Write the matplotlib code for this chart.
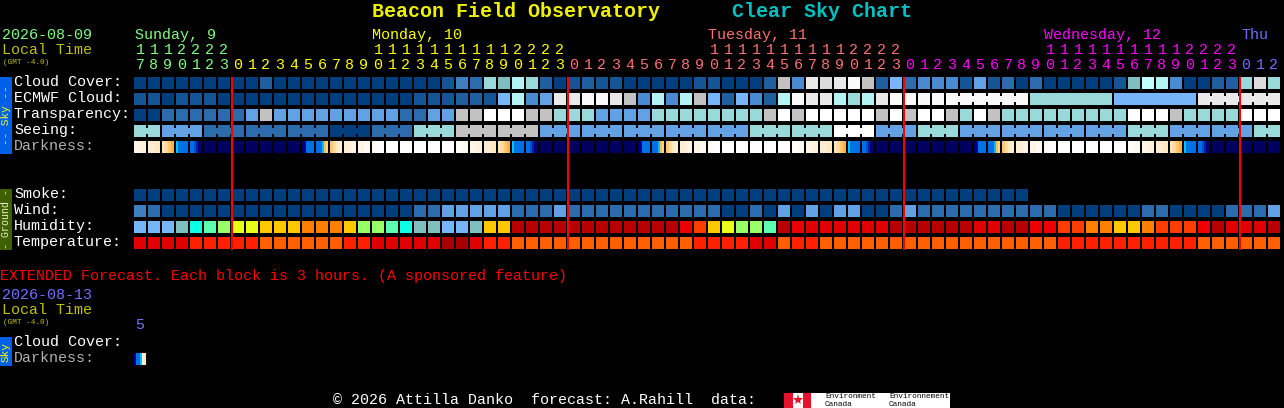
import matplotlib
matplotlib.use("Agg")
import matplotlib.pyplot as plt
from matplotlib.patches import Rectangle

W, H = 1284, 408
FONT = ["Liberation Mono", "DejaVu Sans Mono"]

# colour keys used by the rows
COL = {
    "a": "#003e7e", "b": "#155595", "c": "#1f5f9f", "d": "#2c6cac", "e": "#3f7fbf",
    "f": "#4a8ad0", "g": "#62a2e4", "h": "#75b5f8", "T": "#7fbfbf", "U": "#99d9d9",
    "V": "#b3f3f3", "X": "#c0ffff", "G": "#c2c2c2", "D": "#dcdcdc", "E": "#e9e9e9",
    "W": "#fafafa", "O": "#ffffff",
    "r": "#b80000", "s": "#e00000", "t": "#ee0000", "u": "#ff3c00", "v": "#ff8000",
    "w": "#ffc800", "x": "#e8ff19", "y": "#99ff66", "z": "#5affb0", "q": "#0dffe5",
    "R": "#a80000", "S": "#ff2000", "P": "#ff5f00",
}

cloud_cover = ("aaaaaaaaa" "c" "aaaaaaaaaaaa" "bedUTVUca" "bcbb" "aaaaa" "bb" "aaa" "c"
               "GfEDEW" "Gchdfffbgbdad" "aaaaa" "b" "TXVf" "aa" "cc" "UDU")
ecmwf = ("bbabbb" "aaaaaaaaaaaaaa" "bbbccbhVfgEEWWEGfVfVGhchfc" "VWEEVUVE"
         "WWWWWWWWWW" "UUUUUU" "hhhhhh" "EEEEEE")
transparency = ("aa" "dddddd" "gG" "ggggggggg" "dd" "gg" "GG" "OOO" "GG" "UUU" "gggg" "UUUUUUUU"
                "GOG" "OOOOO" "GOGOOGUOG" "UUUUUUUUU" "OOOG" "UUUU" "OOO")
seeing = ("UU" "ggg" "ddd" "ddd" "ddd" "aaa" "ddd" "UUU" "GGG" "GGG" "ggg" "ggg" "ggg" "ggg" "ggg"
          "UUU" "UUU" "OOO" "ggg" "UUU" "ggg" "ggg" "ggg" "ggg" "UUU" "ggg" "ggg" "UU")
smoke = "a" * 64
wind = ("ed" "aaaaaaaaaaaaaaaaaa" "dd" "ggggg" "ddd" "g" "ddddddddddd" "aadagagagg"
        "aadg" "dddddddddd" "aaaaaa" "dd" "aaaa" "ddd" "g")
humidity = ("hhhTqzyxxwwwvvvwyyzqT" "T" "hh" "T" "ww" "rrrrrrrrrrrr" "tuwxyyz" "rt" "ssss" "ss"
            "rrrrrr" "ss" "rr" "tt" "uu" "vv" "ww" "v" "uuu" "t" "r" "sss" "r")
temperature = ("ssss" "SSSSS" "PPPPPP" "SS" "sssss" "RR" "s" "SS" "PPPPPPPPPPPPP" "SSSS" "ss" "P" "SS"
               "PPPPPPPPPPPPPPPPP" "SSSSSSSSSS" "PPPPPP")

# darkness: each hour block is a run of strips, left to right
dark_blocks = {
    "w": ["#ffffff"],
    "l": ["#fffdf8", "#fffaf0"],
    "m": ["#fff6e8", "#fff1dc"],
    "n": ["#ffeed4", "#ffe8c4"],
    "o": ["#ffe4b8", "#ffd898", "#ffc870", "#ffb040"],
    "b": ["#00c0ff", "#0070e8", "#0070e8", "#0070e8", "#0070e8", "#0070e8"],
    "c": ["#0070e8", "#0070e8", "#0050c8", "#0020a0", "#000080", "#000068"],
    "k": ["#000060"],
    "e": ["#000060", "#000090", "#0070e8", "#0070e8", "#0070e8", "#0070e8"],
    "f": ["#0070e8", "#0070e8", "#0070e8", "#00c0ff", "#ffc040", "#ffd080"],
    "g": ["#ffc878", "#ffdca0", "#ffe8c4", "#ffeed4"],
    "h": ["#ffeed4", "#fff4e4"],
    "i": ["#fff6e8", "#fffaf0"],
    "j": ["#fffcf6", "#ffffff"],
}
darkness = ("mno" "bc" "kkkkkkk" "ef" "ghij" "wwwww" "l"
            "mno" "bc" "kkkkkkk" "ef" "ghij" "wwwww" "l"
            "mno" "bc" "kkkkkkk" "ef" "ghij" "wwwww" "l"
            "mno" "bc" "kkkkk")

for row in (cloud_cover, ecmwf, transparency, seeing, wind, humidity, temperature, darkness):
    assert len(row) == 82, len(row)

start_hour = 17
n_cells = 82
day_names = ["Sunday, 9", "Monday, 10", "Tuesday, 11", "Wednesday, 12", "Thu"]
day_label_x = [135, 372, 708, 1044, 1241]
day_colors = ["#80ff80", "#ffff00", "#ff7070", "#ff00ff", "#7070ff"]
midnights = [7, 31, 55, 79]

sky_rows = [("Cloud Cover:", cloud_cover), ("ECMWF Cloud:", ecmwf),
            ("Transparency:", transparency), ("Seeing:", seeing)]
ground_rows = [("Smoke:", smoke), ("Wind:", wind), ("Humidity:", humidity), ("Temperature:", temperature)]

# three hour runs joined by a bridge: (first, last, notched)
seeing_groups = [(0, 1, True)] + [(i, i + 2, True) for i in range(2, 80, 3)] + [(80, 81, True)]
ecmwf_groups = [(58, 63, True), (64, 69, False), (70, 75, False), (76, 81, True)]

fig = plt.figure(figsize=(W / 100, H / 100), dpi=100, facecolor="black")
ax = fig.add_axes([0, 0, 1, 1])
ax.set_xlim(0, W)
ax.set_ylim(H, 0)
ax.axis("off")

CELL_X0, PITCH, CELL_W, CELL_H = 134, 14, 12, 12


def cell_x(i):
    return CELL_X0 + PITCH * i


def box(x, y, w, h, color):
    # snapping off so the 12 px blocks stay 12 px
    ax.add_patch(Rectangle((x, y), w, h, fc=color, ec="none", lw=0, snap=False))


def txt(x, y, s, color="#ffffff", size=10.8, **kw):
    kw.setdefault("va", "center")
    kw.setdefault("ha", "left")
    ax.text(x, y, s, color=color, fontsize=size, family=FONT, **kw)


def draw_row(values, y, groups=()):
    for i, k in enumerate(values):
        box(cell_x(i), y, CELL_W, CELL_H, COL[k])
    for first, last, notched in groups:
        inset = 3 if notched else 0
        for i in range(first, last):
            box(cell_x(i) + CELL_W, y + inset, PITCH - CELL_W, CELL_H - 2 * inset, COL[values[i]])


def draw_dark(keys, y):
    for i, k in enumerate(keys):
        strips = dark_blocks[k]
        sw = CELL_W / len(strips)
        for j, c in enumerate(strips):
            box(cell_x(i) + j * sw, y, sw, CELL_H, c)


# titles
txt(372, 11.5, "Beacon Field Observatory", "#efef00", 14.4, fontweight="bold")
txt(732, 11.5, "Clear Sky Chart", "#00c0c0", 14.4, fontweight="bold")

# header left side
txt(2, 35, "2026-08-09", "#80ff80")
txt(2, 50.5, "Local Time", "#c0c000")
txt(3, 62, "(GMT -4.0)", "#c0c000", 5.6)
for name, x, c in zip(day_names, day_label_x, day_colors):
    txt(x, 35, name, c)

# hour digits
for i in range(n_cells):
    hour = (start_hour + i) % 24
    day = sum(i >= m for m in midnights)
    c = day_colors[day]
    if hour >= 10:
        txt(cell_x(i) + 6, 50.5, str(hour // 10), c, ha="center")
    txt(cell_x(i) + 6, 65, str(hour % 10), c, ha="center")

# sky rows
row_y = 77
for label, values in sky_rows:
    txt(14, row_y + 5, label)
    groups = seeing_groups if label == "Seeing:" else ecmwf_groups if label == "ECMWF Cloud:" else ()
    draw_row(values, row_y, groups)
    row_y += 16
txt(14, row_y + 5, "Darkness:", "#b0b0b0")
draw_dark(darkness, row_y)

# ground rows
row_y = 189
for label, values in ground_rows:
    txt(14, row_y + 5, label)
    draw_row(values, row_y)
    row_y += 16

# side tabs
box(0, 77, 12, 77, "#0060e8")
txt(6, 115, "-- Sky --", "#ffff00", 8, rotation=90, ha="center")
box(0, 189, 12, 61, "#3e6000")
txt(6, 219, "- Ground -", "#f0f0d0", 7.2, rotation=90, ha="center")

# midnight lines
for m in midnights:
    box(cell_x(m) - 1, 77, 2, 173, "#ff0000")

# extended forecast
txt(0, 276, "EXTENDED Forecast. Each block is 3 hours. (A sponsored feature)", "#ff0000")
txt(2, 295, "2026-08-13", "#7070ff")
txt(2, 310.5, "Local Time", "#c0c000")
txt(3, 322, "(GMT -4.0)", "#c0c000", 5.6)
txt(140, 325, "5", "#7070ff", ha="center")
txt(14, 341.5, "Cloud Cover:")
txt(14, 357.5, "Darkness:", "#b0b0b0")
box(0, 337, 12, 29, "#0060e8")
txt(6, 352, "Sky", "#ffff00", 8, rotation=90, ha="center")
extended_strips = ["#000090", "#0070e8", "#0070e8", "#00c0ff", "#ffeed4", "#ffe8c4"]
for j, c in enumerate(extended_strips):
    box(134 + j * 2, 353, 2, 12, c)

# footer
txt(333, 400, "\u00a9 2026 Attilla Danko  forecast: A.Rahill  data:")
box(784, 393, 166, 15, "#ffffff")
box(784, 393, 9, 15, "#e8112d")
box(803, 393, 8, 15, "#e8112d")
ax.plot([798], [400], marker="*", ms=8, color="#e8112d", mew=0)
txt(825, 397, "Environment", "#000000", 5.6)
txt(825, 404, "Canada", "#000000", 5.6)
txt(889, 397, "Environnement", "#000000", 5.6)
txt(889, 404, "Canada", "#000000", 5.6)

fig.savefig("out.png", dpi=100, facecolor="black")
